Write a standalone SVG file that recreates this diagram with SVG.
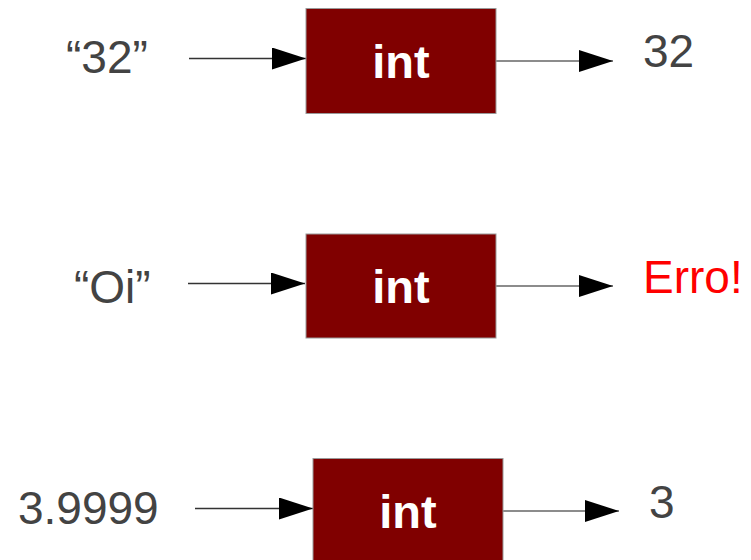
<svg xmlns="http://www.w3.org/2000/svg" width="751" height="560" viewBox="0 0 751 560">
<style>
.box{fill:#800000;stroke:#999999;stroke-width:1}
.lbl{font-family:"Liberation Sans",Arial,sans-serif;font-weight:bold;font-size:47px;fill:#ffffff;text-anchor:middle}
.txt{font-family:"Liberation Sans",Arial,sans-serif;font-size:46px;fill:#434343}
.err{fill:#ff0000}
.ln{stroke:#333333;stroke-width:1.5;fill:none;marker-end:url(#ah)}
.lo{stroke:#666666}
</style>
<defs>
<marker id="ah" markerUnits="userSpaceOnUse" markerWidth="34" markerHeight="22" refX="34" refY="11" orient="auto">
<path d="M0,0 L34,11 L0,22 Z" fill="#000000"/>
</marker>
</defs>
<rect width="751" height="560" fill="#ffffff"/>
<g id="connectors">
<line class="ln" x1="189" y1="58.5" x2="306" y2="58.5"/>
<line class="ln lo" x1="496" y1="61" x2="613" y2="61"/>
<line class="ln" x1="188" y1="283.5" x2="305" y2="283.5"/>
<line class="ln lo" x1="496" y1="286" x2="613" y2="286"/>
<line class="ln" x1="195" y1="508.5" x2="313" y2="508.5"/>
<line class="ln lo" x1="503" y1="511" x2="619" y2="511"/>
</g>
<g id="node-int1"><rect class="box" x="306" y="8.5" width="190" height="105"/><text class="lbl" x="401" y="78">int</text></g>
<g id="node-int2"><rect class="box" x="306" y="234" width="190" height="104"/><text class="lbl" x="401" y="303">int</text></g>
<g id="node-int3"><rect class="box" x="313" y="458.5" width="190" height="105"/><text class="lbl" x="408" y="528">int</text></g>
<g id="in1"><text class="txt" x="66" y="73">“32”</text></g>
<g id="out1"><text class="txt" x="643" y="67">32</text></g>
<g id="in2"><text class="txt" x="74" y="303">“Oi”</text></g>
<g id="out2"><text class="txt err" x="643" y="293">Erro!</text></g>
<g id="in3"><text class="txt" x="18" y="524">3.9999</text></g>
<g id="out3"><text class="txt" x="649" y="518">3</text></g>
</svg>
